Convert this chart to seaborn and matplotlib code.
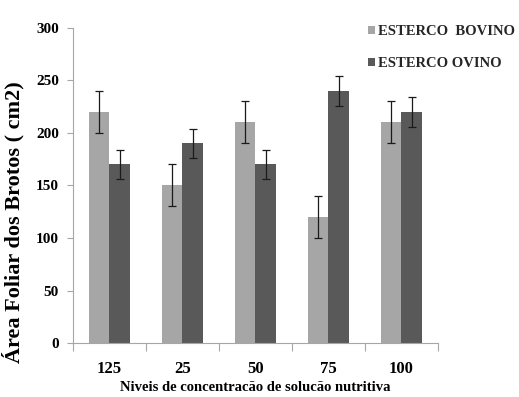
import matplotlib
matplotlib.use("Agg")
import matplotlib.pyplot as plt
import seaborn as sns
import pandas as pd

# Leaf area of shoots by nutrient-solution level and manure type
niveis = ["125", "25", "50", "75", "100"]
bovino = [220, 150, 210, 120, 210]
ovino = [170, 190, 170, 240, 220]
erro_bovino = [20, 20, 20, 20, 20]
erro_ovino = [14, 14, 14, 14, 14]
series = ["ESTERCO  BOVINO", "ESTERCO OVINO"]
cores = ["#a6a6a6", "#595959"]
yticks = [0, 50, 100, 150, 200, 250, 300]

sns.set_theme(style="white")
plt.rcParams["font.family"] = ["Liberation Serif", "DejaVu Serif"]
plt.rcParams["font.weight"] = "bold"

df = pd.DataFrame({
    "Nivel": niveis * 2,
    "Area": bovino + ovino,
    "Esterco": [series[0]] * len(niveis) + [series[1]] * len(niveis),
})
erros = {series[0]: erro_bovino, series[1]: erro_ovino}

fig = plt.figure(figsize=(5.19, 3.97), dpi=100)
ax = fig.add_axes([0.1401, 0.136, 0.7033, 0.7935])

sns.barplot(data=df, x="Nivel", y="Area", hue="Esterco", order=niveis,
            hue_order=series, palette=cores, width=0.566, saturation=1,
            errorbar=None, linewidth=0, ax=ax)

# error bars centred on each drawn bar
for cont, nome in zip(ax.containers, series):
    xs = [p.get_x() + p.get_width() / 2 for p in cont.patches]
    ys = [p.get_height() for p in cont.patches]
    ax.errorbar(xs, ys, yerr=erros[nome], fmt="none", ecolor="#1a1a1a",
                elinewidth=0.9, capsize=2.6, capthick=0.9, zorder=5)

ax.set_xlim(-0.5, len(niveis) - 0.5)
ax.set_ylim(0, 300)
ax.set_yticks(yticks)
ax.set_yticklabels([str(v) for v in yticks])

# category labels at centres, tick marks at category boundaries
ax.set_xticks(range(len(niveis)))
ax.set_xticklabels(niveis)
ax.set_xticks([i - 0.5 for i in range(len(niveis) + 1)], minor=True)
ax.tick_params(axis="x", which="major", length=0, pad=13, labelsize=12)
ax.tick_params(axis="x", which="minor", length=6, width=0.8, color="#a6a6a6",
               direction="out", bottom=True)
ax.tick_params(axis="y", which="major", length=4, width=0.8, color="#a6a6a6",
               direction="out", left=True, pad=6, labelsize=11)
for lab in ax.get_xticklabels() + ax.get_yticklabels():
    lab.set_fontweight("bold")
    lab.set_color("black")

for side in ["top", "right"]:
    ax.spines[side].set_visible(False)
for side in ["left", "bottom"]:
    ax.spines[side].set_color("#a6a6a6")
    ax.spines[side].set_linewidth(0.8)

ax.set_xlabel("Niveis de concentracão de solucão nutritiva", fontsize=10.5,
              fontweight="bold", color="black", labelpad=3)
ax.set_ylabel("Área Foliar dos Brotos ( cm2)", fontsize=16, fontweight="bold",
              color="black")
ax.yaxis.label.set_va("center")
ax.yaxis.set_label_coords(-0.1636, 0.385)

handles, labels = ax.get_legend_handles_labels()
ax.legend(handles, labels, loc="upper left",
          bbox_to_anchor=(361 / 519, 1 - 18 / 397), bbox_transform=fig.transFigure,
          frameon=False, borderpad=0, handlelength=0.45, handleheight=0.45,
          handletextpad=0.25, labelspacing=1.3,
          prop={"family": "Liberation Serif", "weight": "bold", "size": 10.5})

fig.savefig("out.png", dpi=100)
